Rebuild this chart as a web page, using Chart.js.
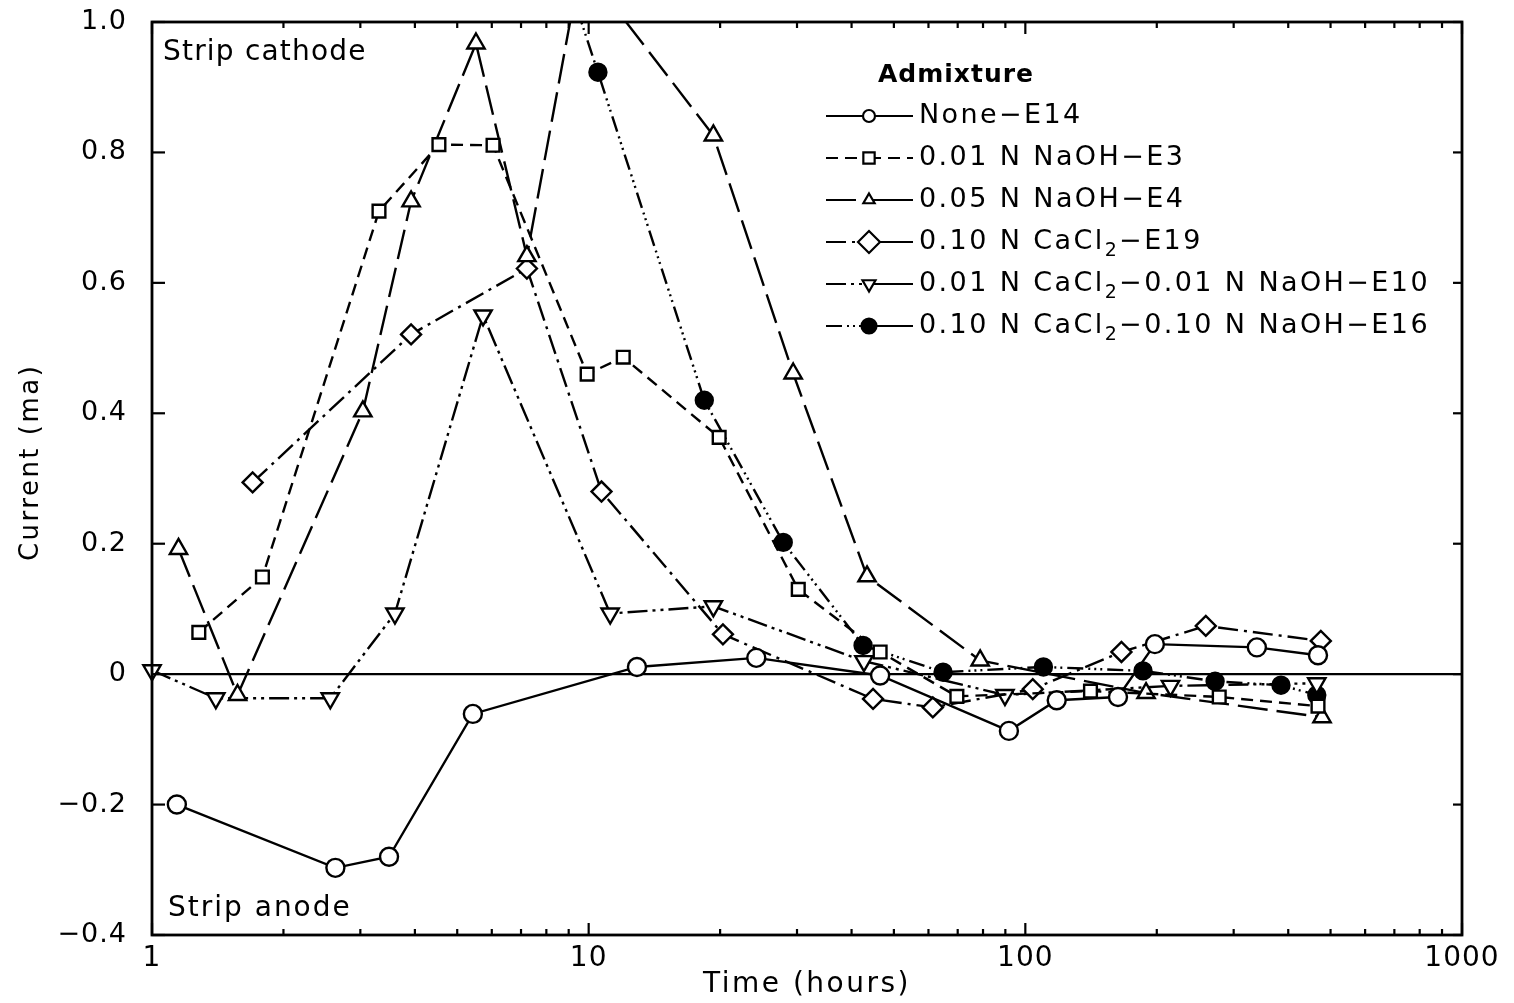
<!DOCTYPE html>
<html>
<head>
<meta charset="utf-8">
<title>Strip current vs time</title>
<script src="https://cdn.jsdelivr.net/npm/chart.js@4/dist/chart.umd.min.js"></script>
<style>
  html, body { margin: 0; padding: 0; background: #fff; }
  canvas { display: block; }
</style>
</head>
<body>
<canvas id="c" width="1514" height="1003"></canvas>
<script>
// ---- series data: time (hours) and current (ma) ----
const timeE14    = [1.14, 2.63, 3.49, 5.43, 12.9, 24.2, 46.5, 91.7, 118, 163, 198, 339, 468];
const currentE14 = [-0.200, -0.297, -0.280, -0.061, 0.011, 0.025, -0.002, -0.087, -0.040, -0.035, 0.046, 0.041, 0.029];

const timeE3     = [1.28, 1.79, 3.31, 4.54, 6.04, 9.92, 12.0, 19.9, 30.2, 46.5, 69.7, 141, 278, 468];
const currentE3  = [0.064, 0.149, 0.710, 0.812, 0.811, 0.460, 0.486, 0.363, 0.130, 0.034, -0.034, -0.026, -0.035, -0.049];

const timeE4     = [1.15, 1.57, 3.04, 3.92, 5.52, 7.22, 9.6, 19.3, 29.4, 43.4, 78.8, 189, 478];
const currentE4  = [0.192, -0.032, 0.403, 0.725, 0.967, 0.641, 1.09, 0.826, 0.461, 0.150, 0.021, -0.029, -0.066];

const timeE19    = [1.70, 3.92, 7.22, 10.7, 20.3, 44.8, 61.4, 104, 166, 259, 475];
const currentE19 = [0.294, 0.521, 0.622, 0.280, 0.061, -0.038, -0.051, -0.023, 0.034, 0.074, 0.051];

const timeE10    = [1.00, 1.40, 2.56, 3.60, 5.73, 11.2, 19.3, 42.7, 89.8, 215, 465];
const currentE10 = [0.006, -0.037, -0.037, 0.093, 0.550, 0.093, 0.104, 0.020, -0.032, -0.018, -0.014];

const timeE16    = [9.3, 10.5, 18.4, 27.9, 42.5, 64.8, 110, 186, 272, 385, 465];
const currentE16 = [1.03, 0.923, 0.420, 0.202, 0.044, 0.003, 0.011, 0.005, -0.011, -0.017, -0.032];

const seriesLabels = [
  'None−E14',
  '0.01 N NaOH−E3',
  '0.05 N NaOH−E4',
  '0.10 N CaCl₂−E19',
  '0.01 N CaCl₂−0.01 N NaOH−E10',
  '0.10 N CaCl₂−0.10 N NaOH−E16'
];
const legendTitle = 'Admixture';

// ---- axis ticks ----
const xTickValues = [1,2,3,4,5,6,7,8,9,10,20,30,40,50,60,70,80,90,100,200,300,400,500,600,700,800,900,1000];
const xMajorValues = [1, 10, 100, 1000];
const xTickLabels  = ['1', '10', '100', '1000'];
const yTickLabels  = ['−0.4', '−0.2', '0', '0.2', '0.4', '0.6', '0.8', '1.0'];

const cathodeText = 'Strip cathode';
const anodeText = 'Strip anode';

// ---- drawing styles per series ----
const FONT = '"DejaVu Sans", sans-serif';
const styles = [
  { pointStyle: 'circle',   rotation: 0,   radius: 9,   fill: '#fff', dash: [],                         legendRadius: 6,   tailDashed: false },
  { pointStyle: 'rect',     rotation: 0,   radius: 9,   fill: '#fff', dash: [12, 7],                    legendRadius: 8,   tailDashed: true  },
  { pointStyle: 'triangle', rotation: 0,   radius: 10,  fill: '#fff', dash: [30, 9],                    legendRadius: 6.5, tailDashed: false },
  { pointStyle: 'rectRot',  rotation: 0,   radius: 10,  fill: '#fff', dash: [20, 6, 3, 6],              legendRadius: 11,  tailDashed: false },
  { pointStyle: 'triangle', rotation: 180, radius: 10,  fill: '#fff', dash: [20, 5, 3, 5, 3, 5],        legendRadius: 7.5, tailDashed: false },
  { pointStyle: 'circle',   rotation: 0,   radius: 8.5, fill: '#000', dash: [16, 5, 2, 4, 2, 4, 2, 5],  legendRadius: 7.5, tailDashed: false }
];

const seriesTimes  = [timeE14, timeE3, timeE4, timeE19, timeE10, timeE16];
const seriesValues = [currentE14, currentE3, currentE4, currentE19, currentE10, currentE16];

const datasets = seriesLabels.map((label, i) => ({
  label,
  data: seriesTimes[i].map((t, k) => ({ x: t, y: seriesValues[i][k] })),
  borderColor: '#000',
  borderWidth: 2.4,
  borderDash: styles[i].dash,
  tension: 0,
  fill: false,
  pointStyle: styles[i].pointStyle,
  pointRotation: styles[i].rotation,
  pointRadius: styles[i].radius,
  pointHoverRadius: styles[i].radius,
  pointBorderWidth: 2.4,
  pointBorderColor: '#000',
  pointBackgroundColor: styles[i].fill,
  clip: { left: 14, top: 0, right: 14, bottom: 14 }
}));

function seg(ctx, x1, y1, x2, y2) {
  ctx.beginPath(); ctx.moveTo(x1, y1); ctx.lineTo(x2, y2); ctx.stroke();
}

// text with a lowered "2" where the label contains ₂
function drawRichText(ctx, text, x, y, size) {
  const parts = text.split('₂');
  let cx = x;
  parts.forEach((p, k) => {
    ctx.font = size + 'px ' + FONT;
    ctx.fillText(p, cx, y);
    cx += ctx.measureText(p).width;
    if (k < parts.length - 1) {
      ctx.font = Math.round(size * 0.72) + 'px ' + FONT;
      ctx.fillText('2', cx, y + size * 0.33);
      cx += ctx.measureText('2').width;
    }
  });
}

function drawMarker(ctx, style, radius, x, y) {
  ctx.save();
  ctx.setLineDash([]);
  ctx.lineWidth = 2.2;
  ctx.strokeStyle = '#000';
  ctx.fillStyle = style.fill;
  if (Chart.helpers && Chart.helpers.drawPoint) {
    Chart.helpers.drawPoint(ctx, { pointStyle: style.pointStyle, rotation: style.rotation, radius, borderWidth: 2.2 }, x, y);
  } else {
    ctx.beginPath(); ctx.arc(x, y, radius, 0, Math.PI * 2); ctx.fill(); ctx.stroke();
  }
  ctx.restore();
}

const textSpacingPlugin = {
  id: 'textSpacing',
  beforeDraw(chart) { chart.ctx.letterSpacing = '2.5px'; },
  afterDatasetsDraw(chart) { chart.ctx.letterSpacing = '1px'; }
};

const framePlugin = {
  id: 'frameAndNotes',
  afterDraw(chart) {
    const { ctx, chartArea: a } = chart;
    const xs = chart.scales.x, ys = chart.scales.y;
    ctx.save();
    ctx.strokeStyle = '#000';
    ctx.setLineDash([]);

    // inward tick marks on all four sides
    ctx.lineWidth = 2.2;
    xs.ticks.forEach(t => {
      const px = xs.getPixelForValue(t.value);
      const len = xMajorValues.includes(t.value) ? 12 : 6;
      seg(ctx, px, a.bottom, px, a.bottom - len);
      seg(ctx, px, a.top, px, a.top + len);
    });
    ys.ticks.forEach(t => {
      const py = ys.getPixelForValue(t.value);
      seg(ctx, a.left, py, a.left + 13, py);
      seg(ctx, a.right, py, a.right - 9, py);
    });

    // plot frame
    ctx.lineWidth = 2.8;
    ctx.strokeRect(a.left, a.top, a.right - a.left, a.bottom - a.top);

    // region notes
    ctx.fillStyle = '#000';
    ctx.textBaseline = 'middle';
    ctx.textAlign = 'left';
    ctx.letterSpacing = '1.2px';
    ctx.font = '28px ' + FONT;
    ctx.fillText(cathodeText, a.left + 11, a.top + 31);
    ctx.letterSpacing = '2px';
    ctx.fillText(anodeText, a.left + 16, a.bottom - 26);

    // legend
    const lx = a.left + 674;
    ctx.letterSpacing = '1px';
    ctx.font = 'bold 25px ' + FONT;
    ctx.fillText(legendTitle, a.left + 726, a.top + 53);
    chart.data.datasets.forEach((ds, i) => {
      const y = a.top + 94 + i * 42;
      const st = styles[i];
      ctx.lineWidth = 2.2;
      ctx.setLineDash(ds.borderDash || []);
      seg(ctx, lx, y, lx + 43, y);
      ctx.setLineDash(st.tailDashed ? ds.borderDash : []);
      seg(ctx, lx + 43, y, lx + 87, y);
      ctx.setLineDash([]);
      drawMarker(ctx, st, st.legendRadius, lx + 43, y);
      ctx.fillStyle = '#000';
      ctx.letterSpacing = '2.4px';
      drawRichText(ctx, ds.label, lx + 93, y, 27);
    });
    ctx.restore();
  }
};

new Chart(document.getElementById('c'), {
  type: 'line',
  data: { datasets },
  options: {
    responsive: false,
    animation: false,
    events: [],
    layout: { padding: { left: 0, right: 52, top: 22, bottom: 0 } },
    plugins: { legend: { display: false }, tooltip: { enabled: false } },
    scales: {
      x: {
        type: 'logarithmic',
        min: 1,
        max: 1000,
        afterBuildTicks: s => { s.ticks = xTickValues.map(v => ({ value: v })); },
        afterFit: s => { s.height = 68; s.paddingLeft = 0; s.paddingRight = 0; },
        grid: { display: false, drawTicks: false },
        border: { display: false },
        ticks: {
          z: 1,
          autoSkip: false,
          maxRotation: 0,
          minRotation: 0,
          padding: 7,
          color: '#000',
          font: { family: FONT, size: 28 },
          callback: v => {
            const k = xMajorValues.indexOf(v);
            return k >= 0 ? xTickLabels[k] : '';
          }
        },
        title: {
          display: true,
          text: 'Time (hours)',
          color: '#000',
          font: { family: FONT, size: 28, lineHeight: 1.2 },
          padding: { top: 0, bottom: 1 }
        }
      },
      y: {
        type: 'linear',
        min: -0.4,
        max: 1.0,
        afterFit: s => { s.width = 152; s.paddingTop = 0; s.paddingBottom = 0; },
        grid: {
          drawTicks: false,
          lineWidth: 2.2,
          color: c => (c.tick && Math.abs(c.tick.value) < 1e-9) ? '#000' : 'rgba(0,0,0,0)'
        },
        border: { display: false },
        ticks: {
          z: 1,
          stepSize: 0.2,
          padding: 25,
          color: '#000',
          font: { family: FONT, size: 27 },
          callback: (v, i) => yTickLabels[i]
        },
        title: {
          display: true,
          text: '   Current (ma)',
          color: '#000',
          font: { family: FONT, size: 26, lineHeight: 1.2 },
          padding: { top: 16, bottom: 0 }
        }
      }
    }
  },
  plugins: [textSpacingPlugin, framePlugin]
});
</script>
</body>
</html>
